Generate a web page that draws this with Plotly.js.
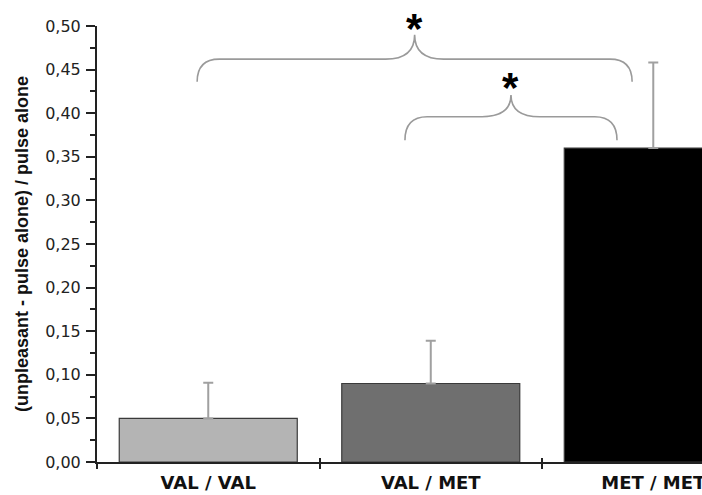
<!DOCTYPE html>
<html>
<head>
<meta charset="utf-8">
<script src="https://cdn.plot.ly/plotly-3.0.1.min.js"></script>
<style>html,body{margin:0;padding:0;background:#fff;}#chart{width:702px;height:495px;}</style>
</head>
<body>
<div id="chart"></div>
<script>
// ---- data ----
const categories = ['VAL / VAL', 'VAL / MET', 'MET / MET'];
const means = [0.05, 0.09, 0.36];
const errorsUp = [0.041, 0.049, 0.098];
const comparisons = [[0, 2], [1, 2]];
const sigLabels = ['*', '*'];
const yTickVals = [0, 0.05, 0.10, 0.15, 0.20, 0.25, 0.30, 0.35, 0.40, 0.45, 0.50];

// ---- styles ----
const barColors = ['#b4b4b4', '#6f6f6f', '#000000'];
const xRange = [-0.5, 2.219];
// brace geometry per comparison (x offsets from group indices, y levels in data units)
const braceGeom = [
  {dx0: -0.05, dx1: -0.095, yEnd: 0.436, yH: 0.462, yPeak: 0.490, starY: 0.497},
  {dx0: -0.116, dx1: -0.163, yEnd: 0.369, yH: 0.396, yPeak: 0.421, starY: 0.429}
];

const shapes = [];
const annotations = [];
comparisons.forEach((pair, i) => {
  const g = braceGeom[i];
  const x0 = pair[0] + g.dx0, x1 = pair[1] + g.dx1;
  const xm = (x0 + x1) / 2;
  const rx = 0.10, cx = 0.13;
  const path = `M ${x0},${g.yEnd} Q ${x0},${g.yH} ${x0 + rx},${g.yH} L ${xm - cx},${g.yH} ` +
               `Q ${xm},${g.yH} ${xm},${g.yPeak} Q ${xm},${g.yH} ${xm + cx},${g.yH} ` +
               `L ${x1 - rx},${g.yH} Q ${x1},${g.yH} ${x1},${g.yEnd}`;
  shapes.push({type: 'path', xref: 'x2', yref: 'y', path: path,
               line: {color: '#9a9a9a', width: 1.6}, layer: 'above'});
  annotations.push({xref: 'x2', yref: 'y', x: xm, y: g.starY, text: sigLabels[i],
                    showarrow: false, xanchor: 'center', yanchor: 'middle',
                    font: {family: 'Liberation Sans, Arial, sans-serif', size: 42, color: '#000', weight: 'bold'}});
});

const traces = [{
  type: 'bar',
  x: categories,
  y: means,
  width: 0.8,
  marker: {color: barColors, line: {color: '#3a3a3a', width: 1.2}},
  error_y: {type: 'data', symmetric: false, array: errorsUp, arrayminus: [0, 0, 0],
            color: '#a0a0a0', thickness: 2, width: 5},
  xaxis: 'x', yaxis: 'y',
  hoverinfo: 'none'
}];

const layout = {
  width: 702, height: 495,
  margin: {l: 97, r: 0, t: 26, b: 33, pad: 0},
  paper_bgcolor: '#ffffff', plot_bgcolor: '#ffffff',
  separators: ', ',
  showlegend: false,
  bargap: 0.2,
  xaxis: {
    type: 'category', range: xRange, tickson: 'boundaries',
    ticks: 'outside', ticklen: 5, tickwidth: 2, tickcolor: '#222',
    showline: true, linecolor: '#222', linewidth: 2,
    showgrid: false, zeroline: false,
    ticklabeloverflow: 'allow', ticklabelstandoff: 3,
    tickfont: {family: 'DejaVu Sans, sans-serif', size: 18, color: '#111', weight: 'bold'}
  },
  xaxis2: {
    overlaying: 'x', anchor: 'y', side: 'bottom', range: xRange, type: 'linear',
    tickmode: 'array', tickvals: [0.5, 1.5], ticks: 'inside', ticklen: 4, tickwidth: 2,
    tickcolor: '#222', showticklabels: false, showline: false, showgrid: false, zeroline: false
  },
  yaxis: {
    range: [0, 0.5], tickmode: 'array', tickvals: yTickVals, tickformat: '.2f',
    ticks: 'outside', ticklen: 9, tickwidth: 2, tickcolor: '#222',
    minor: {dtick: 0.025, ticks: 'outside', ticklen: 5, tickwidth: 2, tickcolor: '#222', showgrid: false},
    showline: true, linecolor: '#222', linewidth: 2,
    showgrid: false, zeroline: false, ticklabelstandoff: 2,
    tickfont: {family: 'DejaVu Sans, sans-serif', size: 16, color: '#222'},
    title: {text: '(unpleasant - pulse alone) / pulse alone', standoff: 12,
            font: {family: 'Liberation Sans, Arial, sans-serif', size: 18, color: '#111', weight: 'bold'}}
  },
  shapes: shapes,
  annotations: annotations
};

Plotly.newPlot('chart', traces, layout, {displayModeBar: false, staticPlot: true});
</script>
</body>
</html>
